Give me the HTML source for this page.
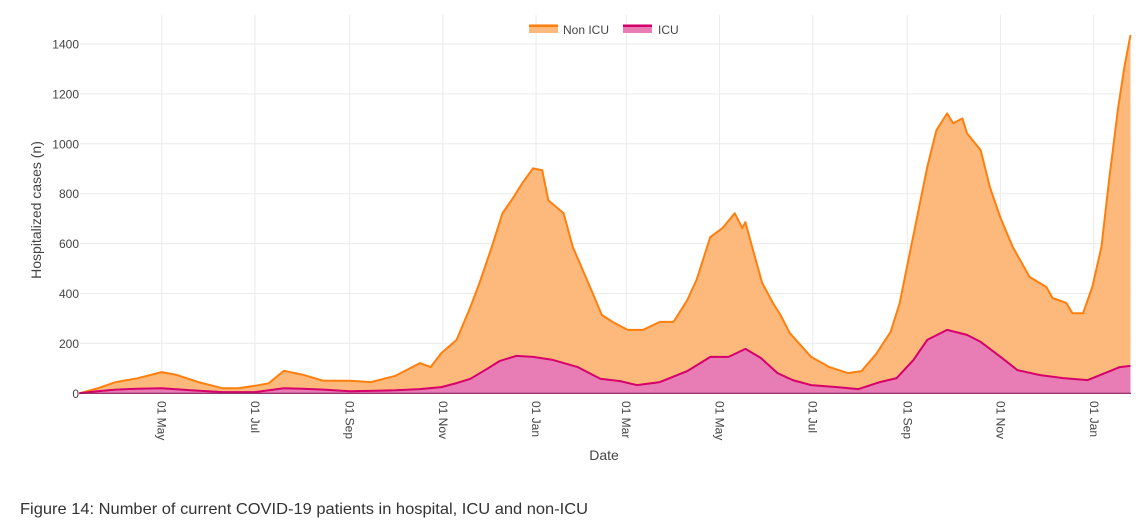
<!DOCTYPE html>
<html><head><meta charset="utf-8"><style>
body{margin:0;background:#fff;width:1139px;height:532px;overflow:hidden}
svg{display:block;font-family:"Liberation Sans",sans-serif}
</style></head><body>
<svg id="chart" width="1139" height="532" viewBox="0 0 1139 532">
<g id="grid"></g>
<g id="areas"></g>
<g id="axes"></g>
<text x="0" y="0" transform="translate(41,210) rotate(-90)" text-anchor="middle" font-size="14" fill="#444">Hospitalized cases (n)</text>
<text x="604" y="460" text-anchor="middle" font-size="14" fill="#444">Date</text>
<g>
<g>
<rect x="529" y="24" width="29" height="9" fill="#fdb97b"/><line x1="529" y1="26" x2="558" y2="26" stroke="#ff7f0e" stroke-width="2"/>
<text x="563" y="34" font-size="12" fill="#444">Non ICU</text></g>
<g>
<rect x="623" y="24" width="29" height="9" fill="#e87db6"/><line x1="623" y1="26" x2="652" y2="26" stroke="#d6006b" stroke-width="2"/>
<text x="658" y="34" font-size="12" fill="#444">ICU</text></g>
</g>
<text x="20" y="514" font-size="16" fill="#333" textLength="568" lengthAdjust="spacingAndGlyphs">Figure 14: Number of current COVID-19 patients in hospital, ICU and non-ICU</text>
</svg>
<script>
const nonIcuDates = ["2020-03-08","2020-03-20","2020-04-01","2020-04-15","2020-05-01","2020-05-10","2020-05-25","2020-06-10","2020-06-20","2020-07-01","2020-07-10","2020-07-20","2020-08-01","2020-08-15","2020-09-01","2020-09-15","2020-10-01","2020-10-17","2020-10-24","2020-10-31","2020-11-10","2020-11-19","2020-11-25","2020-12-03","2020-12-10","2020-12-17","2020-12-23","2020-12-30","2021-01-05","2021-01-09","2021-01-19","2021-01-25","2021-02-07","2021-02-13","2021-02-20","2021-03-02","2021-03-12","2021-03-23","2021-04-01","2021-04-10","2021-04-16","2021-04-25","2021-05-03","2021-05-11","2021-05-16","2021-05-18","2021-05-23","2021-05-29","2021-06-05","2021-06-10","2021-06-16","2021-06-30","2021-07-12","2021-07-24","2021-08-02","2021-08-12","2021-08-21","2021-08-27","2021-09-03","2021-09-07","2021-09-14","2021-09-20","2021-09-27","2021-10-01","2021-10-07","2021-10-10","2021-10-19","2021-10-25","2021-11-01","2021-11-09","2021-11-20","2021-12-01","2021-12-05","2021-12-14","2021-12-18","2021-12-25","2021-12-31","2022-01-06","2022-01-11","2022-01-17","2022-01-21","2022-01-25"];
const nonIcuTop = [0,20,45,60,85,75,45,20,20,30,40,90,75,50,50,45,70,121,105,161,214,346,442,587,722,783,842,902,894,774,722,587,402,314,286,254,254,286,286,374,454,626,662,722,662,686,574,442,362,314,242,146,105,81,89,161,246,362,574,694,906,1054,1122,1082,1102,1042,974,826,702,586,466,426,382,362,321,321,426,586,855,1146,1306,1436];
const icuDates = ["2020-03-08","2020-03-20","2020-04-01","2020-04-15","2020-05-01","2020-05-20","2020-06-10","2020-07-01","2020-07-20","2020-08-01","2020-08-15","2020-09-01","2020-10-01","2020-10-17","2020-10-31","2020-11-10","2020-11-19","2020-11-30","2020-12-08","2020-12-19","2020-12-30","2021-01-12","2021-01-28","2021-02-12","2021-02-25","2021-03-08","2021-03-23","2021-04-10","2021-04-25","2021-05-07","2021-05-18","2021-05-28","2021-06-08","2021-06-18","2021-06-30","2021-07-17","2021-07-31","2021-08-14","2021-08-25","2021-09-05","2021-09-14","2021-09-27","2021-10-10","2021-10-19","2021-11-01","2021-11-12","2021-11-27","2021-12-12","2021-12-28","2022-01-10","2022-01-18","2022-01-25"];
const icu = [0,8,15,18,20,12,5,5,20,18,15,8,12,17,25,41,58,98,129,150,146,134,106,58,49,33,45,89,146,146,178,142,81,53,33,25,17,45,61,134,214,254,234,206,146,93,73,61,53,85,105,110];
const yTicks = [0,200,400,600,800,1000,1200,1400];
const xTickDates = ["2020-05-01","2020-07-01","2020-09-01","2020-11-01","2021-01-01","2021-03-01","2021-05-01","2021-07-01","2021-09-01","2021-11-01","2022-01-01"];
const xTickLabels = ["01 May","01 Jul","01 Sep","01 Nov","01 Jan","01 Mar","01 May","01 Jul","01 Sep","01 Nov","01 Jan"];

const NS="http://www.w3.org/2000/svg";
const X0=Date.UTC(2020,2,1), PX0=68.5, PXD=1.528;
const left=80, right=1131, top0=15, y0=393.3, ky=0.2495;
function xs(d){const t=Date.parse(d+"T00:00:00Z");return PX0+(t-X0)/86400000*PXD;}
function ys(v){return y0-v*ky;}
function mk(tag,attrs,parent){const e=document.createElementNS(NS,tag);for(const k in attrs)e.setAttribute(k,attrs[k]);parent.appendChild(e);return e;}
const grid=document.getElementById('grid'),areas=document.getElementById('areas'),axes=document.getElementById('axes');
yTicks.forEach(v=>{
  const l=mk('line',{x1:left,x2:right,y1:ys(v),y2:ys(v),stroke:'#ebebeb','stroke-width':1},grid);
  
  
  const t=mk('text',{x:79,y:ys(v)+4.5,'text-anchor':'end','font-size':12,fill:'#444'},axes);
  t.textContent=v;
  
  
});
xTickDates.forEach((d,i)=>{
  const x=xs(d);
  const l=mk('line',{x1:x,x2:x,y1:top0,y2:y0,stroke:'#ebebeb','stroke-width':1},grid);
  
  
  const t=mk('text',{x:0,y:0,transform:`translate(${x-4},401) rotate(90)`,'font-size':12,fill:'#444'},axes);
  t.textContent=xTickLabels[i];
  
  
});
function linePts(ds,vals){return ds.map((d,i)=>xs(d).toFixed(1)+','+ys(vals[i]).toFixed(1));}
function areaPath(ds,vals){const p=linePts(ds,vals);return 'M'+xs(ds[0]).toFixed(1)+','+y0+' L'+p.join(' L')+' L'+xs(ds[ds.length-1]).toFixed(1)+','+y0+' Z';}
const a1=mk('path',{d:areaPath(nonIcuDates,nonIcuTop),fill:'#fdb97b'},areas);


const l1=mk('polyline',{points:linePts(nonIcuDates,nonIcuTop).join(' '),fill:'none',stroke:'#ff7f0e','stroke-width':2,'stroke-linejoin':'round'},areas);


const a2=mk('path',{d:areaPath(icuDates,icu),fill:'#e87db6'},areas);


const l2=mk('polyline',{points:linePts(icuDates,icu).join(' '),fill:'none',stroke:'#d6006b','stroke-width':2,'stroke-linejoin':'round'},areas);


const zl=mk('line',{x1:left,x2:right,y1:y0,y2:y0,stroke:'#8b1a5a','stroke-width':1.2},axes);


</script>
</body></html>
